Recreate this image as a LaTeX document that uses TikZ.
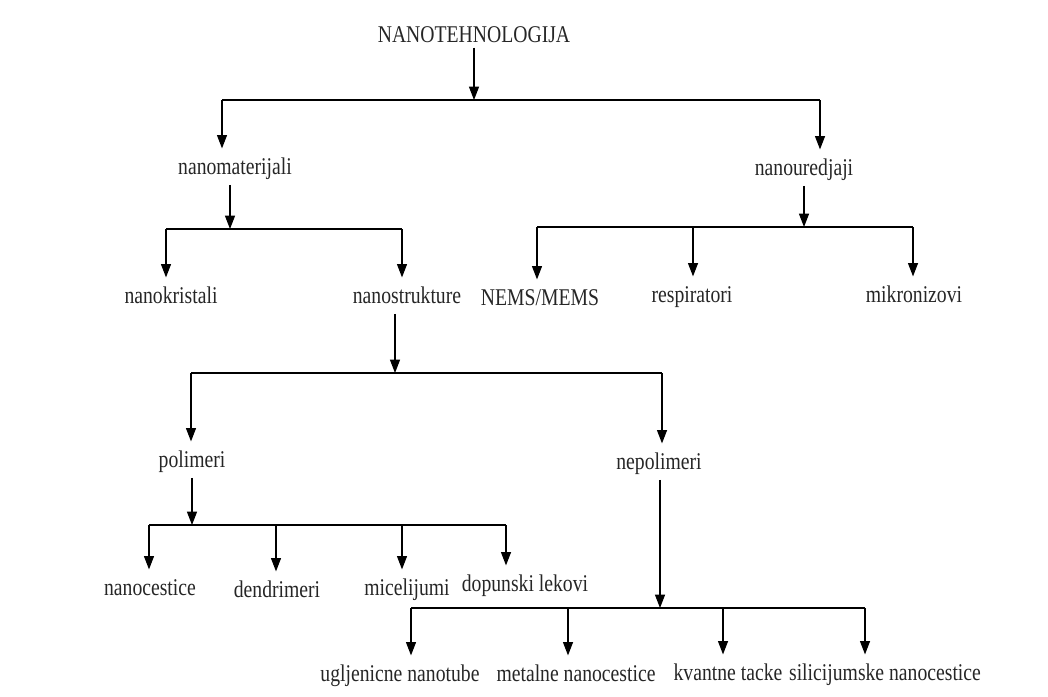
\documentclass[tikz,border=0pt]{standalone}
\usepackage{fontspec}
\setmainfont[FakeStretch=0.82]{Liberation Serif}
\usetikzlibrary{arrows.meta}

\begin{document}
\begin{tikzpicture}[x=0.75pt, y=-0.75pt,
        lbl/.style={anchor=base, inner xsep=0pt, inner ysep=5pt, text height=14pt, text depth=3pt,
            text=black!85, font=\fontsize{18}{21}\selectfont},
        ttl/.style={lbl, inner ysep=1pt},
        bar/.style={line width=1.4pt},
        arr/.style={line width=0.85pt, -{Triangle[length=10pt,width=7.5pt]}}]
        \useasboundingbox (0,0) rectangle (1048,696);

        % labels
        \node[ttl] (nanoteh) at (474,42) {NANOTEHNOLOGIJA};
        \node[lbl] (nanomat) at (235,174) {nanomaterijali};
        \node[lbl] (nanoured) at (804,175) {nanouredjaji};
        \node[lbl] (nanokris) at (171,303) {nanokristali};
        \node[lbl] (nanostruk) at (407,303) {nanostrukture};
        \node[lbl] (nems) at (540,305) {NEMS/MEMS};
        \node[lbl] (resp) at (692,302) {respiratori};
        \node[lbl] (mikro) at (914,302) {mikronizovi};
        \node[lbl] (polim) at (192,467) {polimeri};
        \node[lbl] (nepolim) at (659,469) {nepolimeri};
        \node[lbl] (nanoces) at (150,595) {nanocestice};
        \node[lbl] (dendri) at (277,597) {dendrimeri};
        \node[lbl] (micel) at (407,595) {micelijumi};
        \node[lbl] (dopun) at (525,591) {dopunski lekovi};
        \node[lbl] (uglj) at (400,681) {ugljenicne nanotube};
        \node[lbl] (metal) at (576,681) {metalne nanocestice};
        \node[lbl] (kvant) at (728,680) {kvantne tacke};
        \node[lbl] (silic) at (885,680) {silicijumske nanocestice};

        % branch points
        \coordinate (ba) at (474,100);
        \coordinate (bal) at (222,100);
        \coordinate (bar) at (820,100);
        \coordinate (bb) at (230,229);
        \coordinate (bbl) at (166,229);
        \coordinate (bbr) at (402,229);
        \coordinate (bc) at (804,227);
        \coordinate (bcl) at (537,227);
        \coordinate (bcm) at (693,227);
        \coordinate (bcr) at (913,227);
        \coordinate (bd) at (395,373);
        \coordinate (bdl) at (191,373);
        \coordinate (bdr) at (662,373);
        \coordinate (be) at (192,525);
        \coordinate (bel) at (149,525);
        \coordinate (bem) at (276,525);
        \coordinate (ben) at (402,525);
        \coordinate (ber) at (506,525);
        \coordinate (bf) at (660,608);
        \coordinate (bfl) at (411,608);
        \coordinate (bfm) at (568,608);
        \coordinate (bfn) at (723,608);
        \coordinate (bfr) at (865,608);

        % NANOTEHNOLOGIJA
        \draw[arr] (nanoteh.south -| ba) -- (ba);
        \draw[bar] (bal) -- (bar);
        \draw[arr] (bal) -- (bal |- nanomat.north);
        \draw[arr] (bar) -- (bar |- nanoured.north);

        % nanomaterijali
        \draw[arr] (nanomat.south -| bb) -- (bb);
        \draw[bar] (bbl) -- (bbr);
        \draw[arr] (bbl) -- (bbl |- nanokris.north);
        \draw[arr] (bbr) -- (bbr |- nanostruk.north);

        % nanouredjaji
        \draw[arr] (nanoured.south -| bc) -- (bc);
        \draw[bar] (bcl) -- (bcr);
        \draw[arr] (bcl) -- (bcl |- nems.north);
        \draw[arr] (bcm) -- (bcm |- resp.north);
        \draw[arr] (bcr) -- (bcr |- mikro.north);

        % nanostrukture
        \draw[arr] (nanostruk.south -| bd) -- (bd);
        \draw[bar] (bdl) -- (bdr);
        \draw[arr] (bdl) -- (bdl |- polim.north);
        \draw[arr] (bdr) -- (bdr |- nepolim.north);

        % polimeri
        \draw[arr] (polim.south -| be) -- (be);
        \draw[bar] (bel) -- (ber);
        \draw[arr] (bel) -- (bel |- nanoces.north);
        \draw[arr] (bem) -- (bem |- dendri.north);
        \draw[arr] (ben) -- (ben |- micel.north);
        \draw[arr] (ber) -- (ber |- dopun.north);

        % nepolimeri
        \draw[arr] (nepolim.south -| bf) -- (bf);
        \draw[bar] (bfl) -- (bfr);
        \draw[arr] (bfl) -- (bfl |- uglj.north);
        \draw[arr] (bfm) -- (bfm |- metal.north);
        \draw[arr] (bfn) -- (bfn |- kvant.north);
        \draw[arr] (bfr) -- (bfr |- silic.north);
    \end{tikzpicture}
\end{document}
